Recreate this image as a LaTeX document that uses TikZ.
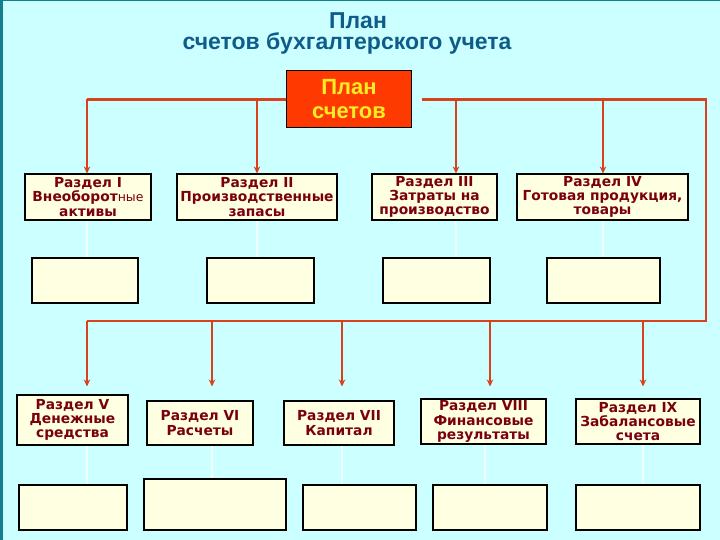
\documentclass[tikz,border=0pt]{standalone}
\usepackage{fontspec}
\setmainfont{DejaVu Sans}
\newfontfamily\titlefont{Liberation Sans}
\usetikzlibrary{arrows.meta}
\definecolor{bgc}{HTML}{CCFFFF}
\definecolor{edgec}{HTML}{137F8C}
\definecolor{titlec}{HTML}{0E5C8A}
\definecolor{planc}{HTML}{FF3A00}
\definecolor{planT}{HTML}{FFEE22}
\definecolor{creamc}{HTML}{FFFFE2}
\definecolor{maroonc}{HTML}{7A0010}
\definecolor{linec}{HTML}{D9411C}
\definecolor{fadec}{HTML}{EFFFFF}
\tikzset{
  sect/.style={draw=black, line width=1.1pt, fill=creamc, text=maroonc, align=center,
    inner sep=0pt, font=\bfseries\fontsize{13.8}{14.2}\selectfont},
  subbox/.style={draw=black, line width=1.1pt, fill=creamc, inner sep=0pt},
  bus/.style={draw=linec, line width=2.2pt},
  arr/.style={draw=linec, line width=2pt, -{Stealth[length=7pt,width=6.5pt]}},
  faint/.style={draw=fadec, line width=1.5pt}
}
\begin{document}
\begin{tikzpicture}[x=1pt,y=-1pt]
\fill[bgc] (0,0) rectangle (720,540);
\useasboundingbox (0,0) rectangle (720,540);
\fill[edgec] (0,0) rectangle (3,540);
\fill[edgec] (0,0) rectangle (720,1.5);
% title
\node[font=\titlefont\bfseries\fontsize{23}{21}\selectfont, text=titlec, align=center, inner sep=0pt] (title) at (347,33) {\hspace*{22pt}План\\счетов бухгалтерского учета};
% plan box
\node[draw=black, line width=1pt, fill=planc, text=planT, minimum width=125pt, minimum height=57pt,
  align=center, font=\titlefont\bfseries\fontsize{22}{24}\selectfont] (plan) at (349,99.5) {План\\счетов};
% row 1 sections
\node[sect, minimum width=126pt, minimum height=46pt] (s1) at (88,197) {Раздел I\\Внеоборот{\mdseries\fontsize{12.5}{14.2}\selectfont ные}\\активы};
\node[sect, minimum width=160pt, minimum height=46pt] (s2) at (257,197) {Раздел II\\Производственные\\запасы};
\node[sect, minimum width=125pt, minimum height=46pt] (s3) at (434.5,197) {Раздел III\\Затраты на\\производство};
\node[sect, minimum width=171pt, minimum height=46pt] (s4) at (602.5,197) {Раздел IV\\Готовая продукция,\\товары};
% row 2 sub boxes
\node[subbox, minimum width=106pt, minimum height=45pt] (b1) at (85,280.5) {};
\node[subbox, minimum width=107pt, minimum height=45pt] (b2) at (260.5,280.5) {};
\node[subbox, minimum width=107pt, minimum height=45pt] (b3) at (436.5,280.5) {};
\node[subbox, minimum width=113pt, minimum height=45pt] (b4) at (603.5,280.5) {};
% row 3 sections
\node[sect, minimum width=111pt, minimum height=50pt] (s5) at (72.5,420) {Раздел V\\Денежные\\средства};
\node[sect, minimum width=106pt, minimum height=44pt] (s6) at (200,423) {Раздел VI\\Расчеты};
\node[sect, minimum width=110pt, minimum height=44pt] (s7) at (339,423) {Раздел VII\\Капитал};
\node[sect, minimum width=125pt, minimum height=45pt] (s8) at (483.5,421.5) {Раздел VIII\\Финансовые\\результаты};
\node[sect, minimum width=124pt, minimum height=45pt] (s9) at (638,421.5) {Раздел IX\\Забалансовые\\счета};
% row 4 sub boxes
\node[subbox, minimum width=108pt, minimum height=45pt] (c5) at (73,507.5) {};
\node[subbox, minimum width=142pt, minimum height=51pt] (c6) at (215,504.5) {};
\node[subbox, minimum width=113pt, minimum height=45pt] (c7) at (359.5,507.5) {};
\node[subbox, minimum width=114pt, minimum height=45pt] (c8) at (490,507.5) {};
\node[subbox, minimum width=124pt, minimum height=45pt] (c9) at (638,507.5) {};
% bus coordinates
\coordinate (ta) at (87,99.5);
\coordinate (tb) at (257,99.5);
\coordinate (tc) at (456,99.5);
\coordinate (td) at (603,99.5);
\coordinate (tr) at (706,99.5);
\coordinate (te) at (422,99.5);
\coordinate (br) at (706,321);
\coordinate (ba) at (87,321);
\coordinate (bb) at (212,321);
\coordinate (bc) at (342,321);
\coordinate (bd) at (490,321);
\coordinate (be) at (643,321);
% faint connectors
\draw[faint] (s1.south -| ta) -- (b1.north -| ta);
\draw[faint] (s2.south -| tb) -- (b2.north -| tb);
\draw[faint] (s3.south -| tc) -- (b3.north -| tc);
\draw[faint] (s4.south -| td) -- (b4.north -| td);
\draw[faint] (s5.south -| ba) -- (c5.north -| ba);
\draw[faint] (s6.south -| bb) -- (c6.north -| bb);
\draw[faint] (s7.south -| bc) -- (c7.north -| bc);
\draw[faint] (s8.south -| 485,0) -- (c8.north -| 485,0);
\draw[faint] (s9.south -| be) -- (c9.north -| be);
% red bus lines
\draw[bus] (plan.west) -- (ta);
\draw[bus, line join=miter] (te) -- (tr) -- (br) -- (ba);
\draw[arr] (ta) -- (s1.north -| ta);
\draw[arr] (tb) -- (s2.north -| tb);
\draw[arr] (tc) -- (s3.north -| tc);
\draw[arr] (td) -- (s4.north -| td);
\draw[arr] (ba) -- ([yshift=8pt]s5.north -| ba);
\draw[arr] (bb) -- ([yshift=14pt]s6.north -| bb);
\draw[arr] (bc) -- ([yshift=14pt]s7.north -| bc);
\draw[arr] (bd) -- ([yshift=12pt]s8.north -| bd);
\draw[arr] (be) -- ([yshift=12pt]s9.north -| be);
\end{tikzpicture}
\end{document}
